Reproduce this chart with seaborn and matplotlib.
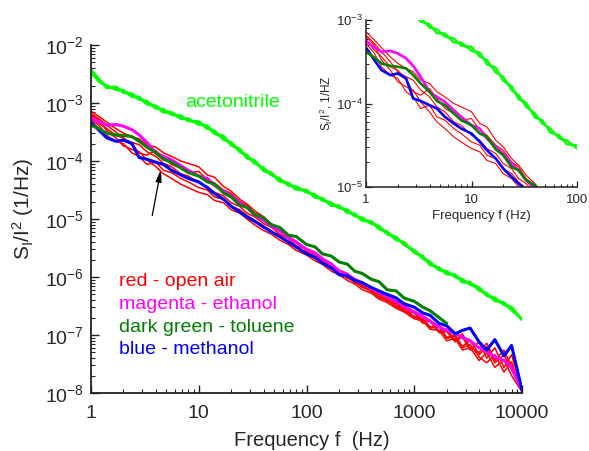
import matplotlib
matplotlib.use("Agg")
import matplotlib.pyplot as plt
import numpy as np
import pandas as pd
import seaborn as sns

# Frequency grid of the spectra (Hz)
freq = [1, 1.2, 1.4, 1.7, 2, 2.4, 2.8, 3.3, 4, 4.7,
        5.6, 6.8, 8, 10, 12, 14, 17, 20, 24, 28,
        33, 40, 47, 56, 68, 80, 100, 120, 140, 170,
        200, 240, 280, 330, 400, 470, 560, 680, 800, 1000,
        1200, 1400, 1700, 2000, 2400, 2800, 3300, 4000, 4700, 5600,
        6800, 8000, 10000]

# log10 of normalised noise S_I/I^2 (1/Hz)
acetonitrile_a = [-2.43, -2.60, -2.74, -2.72, -2.82, -2.84, -2.94, -2.97, -3.09, -3.11,
                  -3.20, -3.22, -3.31, -3.32, -3.44, -3.48, -3.63, -3.68, -3.84, -3.90,
                  -4.04, -4.12, -4.24, -4.30, -4.42, -4.44, -4.54, -4.58, -4.68, -4.72,
                  -4.81, -4.84, -4.95, -4.98, -5.08, -5.12, -5.26, -5.31, -5.44, -5.54,
                  -5.68, -5.74, -5.88, -5.90, -6.00, -6.04, -6.13, -6.18, -6.32, -6.36,
                  -6.48, -6.52, -6.74]
acetonitrile_b = [-2.46, -2.64, -2.70, -2.77, -2.78, -2.89, -2.90, -3.02, -3.05, -3.16,
                  -3.16, -3.27, -3.27, -3.37, -3.39, -3.53, -3.57, -3.73, -3.79, -3.95,
                  -3.99, -4.17, -4.20, -4.35, -4.38, -4.49, -4.50, -4.63, -4.64, -4.77,
                  -4.77, -4.89, -4.91, -5.03, -5.04, -5.17, -5.22, -5.36, -5.40, -5.58,
                  -5.64, -5.79, -5.84, -5.95, -5.96, -6.09, -6.09, -6.23, -6.28, -6.41,
                  -6.44, -6.57, -6.72]
open_air_1 = [-3.14, -3.24, -3.33, -3.44, -3.52, -3.58, -3.62, -3.72, -3.76, -3.86,
              -3.92, -4.00, -4.04, -4.10, -4.24, -4.28, -4.44, -4.52, -4.66, -4.74,
              -4.86, -4.96, -5.08, -5.16, -5.30, -5.38, -5.52, -5.58, -5.70, -5.76,
              -5.88, -5.94, -6.04, -6.10, -6.20, -6.28, -6.38, -6.44, -6.54, -6.60,
              -6.76, -6.74, -6.94, -6.90, -7.10, -7.04, -7.26, -7.12, -7.40, -7.22,
              -7.56, -7.34, -7.95]
open_air_2 = [-3.20, -3.30, -3.48, -3.60, -3.74, -3.80, -3.84, -3.98, -4.10, -4.22,
              -4.30, -4.40, -4.46, -4.54, -4.58, -4.68, -4.72, -4.84, -4.90, -5.00,
              -5.10, -5.20, -5.26, -5.36, -5.44, -5.54, -5.62, -5.72, -5.78, -5.90,
              -5.96, -6.06, -6.12, -6.22, -6.28, -6.38, -6.44, -6.54, -6.60, -6.72,
              -6.76, -6.90, -6.92, -7.10, -7.06, -7.26, -7.22, -7.44, -7.30, -7.56,
              -7.42, -7.70, -7.98]
open_air_3 = [-3.18, -3.28, -3.38, -3.50, -3.62, -3.68, -3.72, -3.84, -3.92, -4.04,
              -4.10, -4.22, -4.26, -4.38, -4.44, -4.54, -4.60, -4.72, -4.78, -4.90,
              -4.96, -5.08, -5.14, -5.26, -5.34, -5.46, -5.52, -5.64, -5.70, -5.82,
              -5.88, -6.00, -6.06, -6.16, -6.22, -6.34, -6.40, -6.50, -6.56, -6.68,
              -6.72, -6.86, -6.84, -7.04, -7.00, -7.20, -7.08, -7.34, -7.20, -7.48,
              -7.34, -7.60, -7.96]
open_air_4 = [-3.24, -3.36, -3.44, -3.56, -3.60, -3.72, -3.86, -3.90, -3.82, -3.94,
              -4.06, -4.12, -4.20, -4.18, -4.32, -4.38, -4.50, -4.56, -4.70, -4.76,
              -4.90, -4.98, -5.10, -5.18, -5.32, -5.40, -5.54, -5.60, -5.74, -5.80,
              -5.92, -5.98, -6.10, -6.14, -6.26, -6.30, -6.42, -6.46, -6.58, -6.62,
              -6.80, -6.76, -6.96, -6.94, -7.12, -6.98, -7.22, -7.30, -7.14, -7.44,
              -7.26, -7.54, -7.97]
open_air_5 = [-3.28, -3.40, -3.56, -3.66, -3.70, -3.86, -3.92, -4.06, -4.02, -4.16,
              -4.20, -4.30, -4.36, -4.46, -4.50, -4.62, -4.66, -4.78, -4.84, -4.94,
              -5.02, -5.12, -5.20, -5.30, -5.38, -5.50, -5.56, -5.68, -5.74, -5.86,
              -5.92, -6.02, -6.08, -6.18, -6.24, -6.36, -6.40, -6.52, -6.58, -6.70,
              -6.72, -6.88, -6.86, -7.06, -7.02, -7.22, -7.16, -7.38, -7.48, -7.34,
              -7.64, -7.46, -7.99]
ethanol = [-3.25, -3.33, -3.38, -3.37, -3.40, -3.46, -3.55, -3.68, -3.86, -3.92,
           -3.98, -4.08, -4.16, -4.26, -4.30, -4.42, -4.52, -4.60, -4.72, -4.80,
           -4.92, -5.02, -5.12, -5.20, -5.32, -5.40, -5.52, -5.58, -5.68, -5.78,
           -5.90, -5.96, -6.04, -6.10, -6.20, -6.26, -6.34, -6.42, -6.50, -6.60,
           -6.68, -6.76, -6.86, -6.92, -6.98, -7.04, -7.10, -7.22, -7.28, -7.38,
           -7.44, -7.56, -7.95]
methanol = [-3.33, -3.48, -3.60, -3.66, -3.64, -3.70, -3.94, -3.97, -4.02, -4.06,
            -4.16, -4.24, -4.30, -4.36, -4.46, -4.56, -4.66, -4.78, -4.88, -4.96,
            -5.04, -5.14, -5.22, -5.30, -5.40, -5.48, -5.60, -5.66, -5.76, -5.84,
            -5.96, -5.98, -6.06, -6.10, -6.18, -6.24, -6.30, -6.36, -6.46, -6.52,
            -6.62, -6.66, -6.80, -6.84, -6.98, -6.92, -6.88, -7.12, -7.26, -7.08,
            -7.36, -7.18, -7.95]
# toluene was recorded up to 2 kHz only
toluene = [-3.38, -3.45, -3.52, -3.55, -3.56, -3.58, -3.66, -3.76, -3.86, -3.97,
           -4.02, -4.12, -4.20, -4.26, -4.36, -4.40, -4.55, -4.62, -4.76, -4.80,
           -4.92, -4.98, -5.10, -5.14, -5.28, -5.30, -5.44, -5.48, -5.60, -5.64,
           -5.74, -5.78, -5.90, -5.94, -6.04, -6.08, -6.22, -6.24, -6.36, -6.42,
           -6.52, -6.58, -6.70, -6.80]

xtick_vals = [1, 10, 100, 1000, 10000]
xtick_labels = ["1", "10", "100", "1000", "10000"]
inset_xtick_vals = [1, 10, 100]
inset_xtick_labels = ["1", "10", "100"]
legend_lines = ["red - open air", "magenta - ethanol",
                "dark green - toluene", "blue - methanol"]

RED, MAGENTA, DKGREEN, BLUE, LIME = "#ff0000", "#ff00ff", "#008000", "#0000ff", "#00ff00"
legend_colors = [RED, MAGENTA, DKGREEN, BLUE]

# (name, values, colour, main linewidth, inset linewidth)
traces = [
    ("acetonitrile_a", acetonitrile_a, LIME, 2.0, 1.6),
    ("acetonitrile_b", acetonitrile_b, LIME, 2.0, 1.6),
    ("open_air_1", open_air_1, RED, 1.1, 0.8),
    ("open_air_2", open_air_2, RED, 1.1, 0.8),
    ("open_air_3", open_air_3, RED, 1.1, 0.8),
    ("open_air_4", open_air_4, RED, 1.1, 0.8),
    ("open_air_5", open_air_5, RED, 1.1, 0.8),
    ("ethanol", ethanol, MAGENTA, 2.2, 1.9),
    ("methanol", methanol, BLUE, 2.2, 1.9),
    ("toluene", toluene, DKGREEN, 2.2, 1.9),
]

rows = []
for name, vals, *_ in traces:
    for f, v in zip(freq, vals):
        rows.append({"trace": name, "freq": f, "S": 10.0 ** v})
df = pd.DataFrame(rows)

sns.set_style("ticks")
plt.rcParams["font.family"] = ["Liberation Sans", "DejaVu Sans"]
plt.rcParams["mathtext.fontset"] = "custom"
plt.rcParams["mathtext.rm"] = "Liberation Sans"
plt.rcParams["mathtext.it"] = "Liberation Sans:italic"
plt.rcParams["axes.edgecolor"] = "#222222"

fig = plt.figure(figsize=(5.89, 4.51), dpi=100)
ax = fig.add_axes([91 / 589, 1 - 393 / 451, 431 / 589, 348 / 451])
ins = fig.add_axes([366 / 589, 1 - 187 / 451, 211 / 589, 167 / 451])
ins.set_facecolor("none")

for axis in (ax, ins):
    axis.set_xscale("log")
    axis.set_yscale("log")

for name, vals, color, lw_main, lw_ins in traces:
    d = df[df["trace"] == name]
    sns.lineplot(data=d, x="freq", y="S", ax=ax, color=color, lw=lw_main,
                 estimator=None, sort=False, legend=False)
    sns.lineplot(data=d, x="freq", y="S", ax=ins, color=color, lw=lw_ins,
                 estimator=None, sort=False, legend=False)

# main axes
ax.set_xlim(1, 10000)
ax.set_ylim(1e-8, 1e-2)
ax.set_xticks(xtick_vals)
ax.set_xticklabels(xtick_labels)
ax.tick_params(which="major", direction="in", length=6, width=1.0, labelsize=14, color="#222222")
ax.tick_params(which="minor", direction="in", length=3, width=0.8, color="#222222")
ax.tick_params(axis="x", which="major", pad=9)
ax.tick_params(axis="y", which="major", pad=5)
for s in ("top", "right"):
    ax.spines[s].set_visible(False)
for s in ("left", "bottom"):
    ax.spines[s].set_linewidth(1.3)
ax.set_xlabel("Frequency f  (Hz)", fontsize=14.5)
ax.set_ylabel(r"$\mathdefault{S_I/I^2}$ (1/Hz)", fontsize=15)
ax.xaxis.set_label_coords(0.513, -0.108)
ax.yaxis.set_label_coords(-0.128, 0.53)

ax.text(7.47, 1.04e-3, "acetonitrile", color=LIME, fontsize=14, ha="left", va="center")
for i, (txt, col) in enumerate(zip(legend_lines, legend_colors)):
    ax.text(0.065, 0.319 - i * 0.065, txt, color=col, fontsize=14,
            ha="left", va="center", transform=ax.transAxes)
ax.annotate("", xy=(4.45, 7.0e-5), xytext=(3.7, 1.15e-5),
            arrowprops=dict(arrowstyle="-|>,head_length=0.7,head_width=0.18",
                            color="black", lw=0.9, shrinkA=0, shrinkB=0))

# inset
ins.set_xlim(1, 100)
ins.set_ylim(1e-5, 1e-3)
ins.set_xticks(inset_xtick_vals)
ins.set_xticklabels(inset_xtick_labels)
ins.tick_params(which="major", direction="in", length=4, width=0.9, labelsize=9.5, color="#222222")
ins.tick_params(which="minor", direction="in", length=2, width=0.7, color="#222222")
ins.tick_params(axis="x", which="major", pad=5)
ins.tick_params(axis="y", which="major", pad=2)
for s in ("top", "right"):
    ins.spines[s].set_visible(False)
for s in ("left", "bottom"):
    ins.spines[s].set_linewidth(1.1)
ins.set_xlabel("Frequency f (Hz)", fontsize=9.5)
ins.set_ylabel(r"$\mathdefault{S_I/I^2}$, 1/HZ", fontsize=8.5)
ins.xaxis.set_label_coords(0.545, -0.135)
ins.yaxis.set_label_coords(-0.145, 0.5)

fig.savefig("out.png", dpi=100)
